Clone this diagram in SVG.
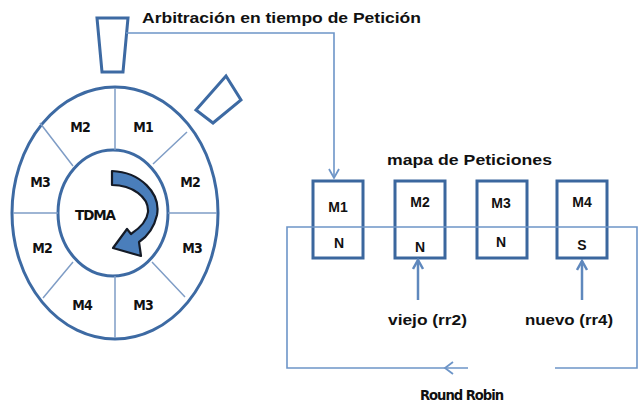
<svg xmlns="http://www.w3.org/2000/svg" width="639" height="404" viewBox="0 0 639 404">
<style>
.bold{font-family:"Liberation Sans",Arial,sans-serif;font-weight:bold;fill:#111;}
.cond{font-family:"DejaVu Sans Condensed","Liberation Sans",sans-serif;font-weight:bold;fill:#111;font-size:14px;letter-spacing:-1px;}
.frame{fill:#fff;stroke:#3d6aa3;stroke-width:3;}
.spoke{stroke:#7f9dc6;stroke-width:1.5;fill:none;}
.box{fill:#fff;stroke:#3b679e;stroke-width:3;}
.wire{fill:none;stroke:#6d95c8;stroke-width:1.6;}
.wired{fill:none;stroke:#5f88bd;stroke-width:2.5;}
</style>
<defs>
<marker id="chev" viewBox="0 0 12 12" refX="10" refY="6" markerWidth="12" markerHeight="12" markerUnits="userSpaceOnUse" orient="auto">
<path d="M1 1 L10 6 L1 11" fill="none" stroke="#6d95c8" stroke-width="1.8"/>
</marker>
<marker id="chevd" viewBox="0 0 12 12" refX="10" refY="6" markerWidth="12" markerHeight="12" markerUnits="userSpaceOnUse" orient="auto">
<path d="M1 1 L10 6 L1 11" fill="none" stroke="#5f88bd" stroke-width="2.5"/>
</marker>
</defs>
<rect width="639" height="404" fill="#fff"/>

<g id="title">
<text class="bold" x="142" y="23" font-size="15.5" textLength="279" lengthAdjust="spacingAndGlyphs">Arbitración en tiempo de Petición</text>
</g>

<g id="pointer-top">
<polygon class="frame" points="97,18 128,18 123,72 102,72"/>
</g>
<g id="pointer-side">
<polygon class="frame" points="196,110 226,76 241,100 213,123"/>
</g>

<g id="wheel">
<ellipse class="frame" cx="115" cy="213" rx="103" ry="126"/>
<ellipse class="frame" cx="113" cy="213" rx="55" ry="63"/>
<path class="spoke" d="M115 88 L115 150 M115 276 L115 338 M13 213 L58 213 M168 213 L217 213 M40 123 L73 166 M187 132 L153 164 M43 298 L73 262 M185 297 L152 262"/>
<text class="cond" x="80" y="132" text-anchor="middle">M2</text>
<text class="cond" x="143" y="132" text-anchor="middle">M1</text>
<text class="cond" x="40" y="187" text-anchor="middle">M3</text>
<text class="cond" x="190" y="187" text-anchor="middle">M2</text>
<text class="cond" x="42" y="253" text-anchor="middle">M2</text>
<text class="cond" x="192" y="253" text-anchor="middle">M3</text>
<text class="cond" x="82" y="310" text-anchor="middle">M4</text>
<text class="cond" x="143" y="310" text-anchor="middle">M3</text>
<path d="M112 171 C140 172 161 193 157 215 C154 228 148 236 139 242 L141 256 L113 248 L127 229 L131 234 C140 228 147 221 148 212 C149 197 132 185 112 185 Z" fill="#4a7ebb" stroke="#141a26" stroke-width="2.2" stroke-linejoin="round"/>
<text class="cond" x="75" y="220" textLength="40" lengthAdjust="spacingAndGlyphs">TDMA</text>
</g>

<g id="map-title">
<text class="bold" x="387" y="165" font-size="15" textLength="165" lengthAdjust="spacingAndGlyphs">mapa de Peticiones</text>
</g>

<g id="box-m1">
<rect class="box" x="313" y="181" width="50" height="77"/>
<text class="bold" x="338" y="212" font-size="14" text-anchor="middle">M1</text>
<text class="bold" x="339" y="248" font-size="14" text-anchor="middle">N</text>
</g>
<g id="box-m2">
<rect class="box" x="395" y="181" width="50" height="77"/>
<text class="bold" x="420" y="207" font-size="14" text-anchor="middle">M2</text>
<text class="bold" x="420" y="252" font-size="14" text-anchor="middle">N</text>
</g>
<g id="box-m3">
<rect class="box" x="477" y="181" width="50" height="77"/>
<text class="bold" x="501" y="208" font-size="14" text-anchor="middle">M3</text>
<text class="bold" x="501" y="247" font-size="14" text-anchor="middle">N</text>
</g>
<g id="box-m4">
<rect class="box" x="557" y="181" width="50" height="77"/>
<text class="bold" x="582" y="207" font-size="14" text-anchor="middle">M4</text>
<text class="bold" x="582" y="250" font-size="14" text-anchor="middle">S</text>
</g>

<g id="connectors">
<path class="wire" d="M126 33 L334 33 L334 178" marker-end="url(#chev)"/>
<path class="wire" d="M468 368 L287 368 L287 227 L637 227 L637 368 L555 368"/>
<path d="M453 362 L445 368 L453 374" fill="none" stroke="#6d95c8" stroke-width="1.8"/>
<path class="wired" d="M418 300 L418 260" marker-end="url(#chevd)"/>
<path class="wired" d="M582 300 L582 261" marker-end="url(#chevd)"/>
</g>

<g id="labels">
<text class="bold" x="388" y="325" font-size="15" textLength="79" lengthAdjust="spacingAndGlyphs">viejo (rr2)</text>
<text class="bold" x="525" y="325" font-size="15" textLength="88" lengthAdjust="spacingAndGlyphs">nuevo (rr4)</text>
<text class="cond" x="420" y="400" font-size="15" textLength="83" lengthAdjust="spacingAndGlyphs">Round Robin</text>
</g>
</svg>
